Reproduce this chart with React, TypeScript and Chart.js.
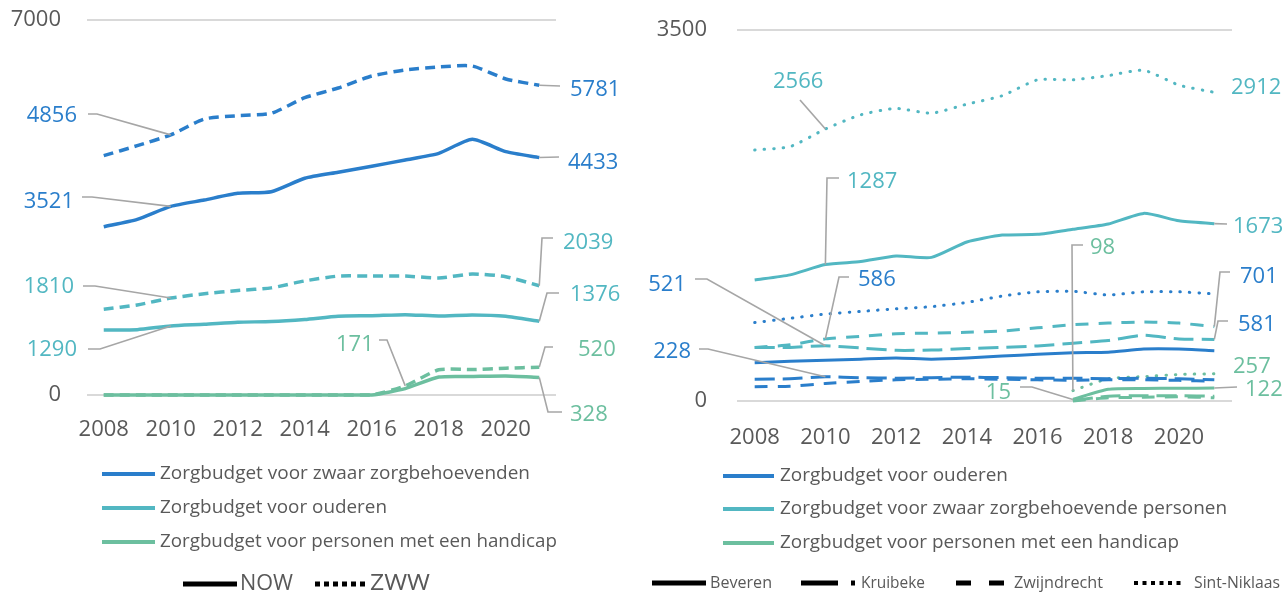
import React, { useEffect, useRef } from "react";
import { Chart, registerables } from "chart.js";

Chart.register(...registerables);

// ---------------- DATA ----------------
const years = ["2008", "2009", "2010", "2011", "2012", "2013", "2014", "2015", "2016", "2017", "2018", "2019", "2020", "2021"];

// Left panel: NOW / ZWW
const leftCategories = [
  "Zorgbudget voor zwaar zorgbehoevenden",
  "Zorgbudget voor ouderen",
  "Zorgbudget voor personen met een handicap",
];
const schemes = ["NOW", "ZWW"];
const nowZwaar = [3141, 3279, 3521, 3640, 3764, 3795, 4045, 4158, 4270, 4387, 4511, 4773, 4542, 4433];
const zwwZwaar = [4467, 4654, 4856, 5152, 5214, 5258, 5550, 5731, 5955, 6067, 6123, 6141, 5899, 5781];
const nowOuderen = [1215, 1220, 1290, 1320, 1360, 1370, 1410, 1470, 1480, 1500, 1475, 1495, 1470, 1376];
const zwwOuderen = [1600, 1680, 1810, 1890, 1950, 2000, 2130, 2220, 2221, 2221, 2184, 2259, 2209, 2039];
const nowHandicap = [0, 0, 0, 0, 0, 0, 0, 0, 0, 120, 335, 345, 355, 328];
const zwwHandicap = [0, 0, 0, 0, 0, 0, 0, 0, 0, 171, 470, 475, 500, 520];
const leftMax = 7000;

// Right panel: municipalities
const rightCategories = [
  "Zorgbudget voor ouderen",
  "Zorgbudget voor zwaar zorgbehoevende personen",
  "Zorgbudget voor personen met een handicap",
];
const municipalities = ["Beveren", "Kruibeke", "Zwijndrecht", "Sint-Niklaas"];
const beverenOuderen = [360, 375, 385, 395, 405, 395, 405, 425, 440, 455, 460, 490, 490, 475];
const beverenZwaar = [1142, 1190, 1287, 1315, 1368, 1355, 1500, 1565, 1572, 1620, 1670, 1770, 1700, 1673];
const beverenHandicap = [null, null, null, null, null, null, null, null, null, 15, 110, 118, 120, 122];
const kruibekeOuderen = [205, 210, 228, 220, 215, 220, 225, 220, 215, 215, 210, 215, 210, 200];
const kruibekeZwaar = [505, 505, 521, 500, 478, 480, 495, 505, 520, 545, 570, 620, 585, 581];
const kruibekeHandicap = [null, null, null, null, null, null, null, null, null, 5, 45, 50, 50, 45];
const zwijndrechtOuderen = [135, 140, 165, 185, 200, 205, 210, 205, 200, 195, 200, 200, 195, 185];
const zwijndrechtZwaar = [505, 530, 586, 610, 635, 640, 648, 660, 690, 720, 735, 745, 735, 701];
const zwijndrechtHandicap = [null, null, null, null, null, null, null, null, null, 0, 30, 35, 40, 30];
const sintNiklaasOuderen = [740, 780, 820, 845, 870, 890, 930, 990, 1030, 1035, 1000, 1030, 1030, 1010];
const sintNiklaasZwaar = [2368, 2400, 2566, 2700, 2760, 2715, 2800, 2880, 3030, 3030, 3070, 3120, 2980, 2912];
const sintNiklaasHandicap = [null, null, null, null, null, null, null, null, null, 98, 210, 230, 250, 257];
const rightMax = 3500;

// ---------------- STYLE ----------------
const BLUE = "#2a7ecb";
const TEAL = "#52b7c2";
const GREEN = "#6cbf9f";
const LEADER = "#a6a6a6";
const GRID = "#d9d9d9";
const TEXT = "#595959";
const FONT = '"Open Sans", "Noto Sans", sans-serif';

const DASH_ZWW = [10, 6];
const DASH_LONG = [20, 8];
const DASH_MED = [13, 10];
const DASH_DOT = [0.5, 9];

type Callout = { ds: number; i: number; color: string; tx: number; ty: number; align?: "left" | "right"; path?: number[][] };
type Seg = { x1: number; x2: number; y: number; color: string; w: number; dash: number[] };
type Txt = { x: number; y: number; text: string; size: number; w?: number; color?: string };

function makeAnnot(offsetX: number, xLabelY: number, callouts: Callout[], segs: Seg[], texts: Txt[]) {
  return {
    id: "annot",
    afterDraw(chart: any) {
      const ctx: CanvasRenderingContext2D = chart.ctx;
      ctx.save();
      // x-axis labels (every other year), positioned through the category scale
      const xs = chart.scales.x;
      ctx.fillStyle = TEXT;
      ctx.font = `22px ${FONT}`;
      ctx.textAlign = "center";
      ctx.textBaseline = "middle";
      years.forEach((label, i) => {
        if (i % 2 === 0) ctx.fillText(label, xs.getPixelForValue(i), xLabelY);
      });
      // value callouts with leader lines
      for (const c of callouts) {
        const el = chart.getDatasetMeta(c.ds).data[c.i];
        const value = chart.data.datasets[c.ds].data[c.i];
        if (c.path) {
          ctx.beginPath();
          ctx.strokeStyle = LEADER;
          ctx.lineWidth = 1.6;
          ctx.setLineDash([]);
          c.path.forEach((p, k) => (k === 0 ? ctx.moveTo(p[0] - offsetX, p[1]) : ctx.lineTo(p[0] - offsetX, p[1])));
          ctx.lineTo(el.x, el.y);
          ctx.stroke();
        }
        ctx.fillStyle = c.color;
        ctx.font = `22px ${FONT}`;
        ctx.textAlign = c.align || "left";
        ctx.textBaseline = "middle";
        ctx.fillText(String(value), c.tx - offsetX, c.ty);
      }
      // legend samples
      for (const s of segs) {
        ctx.beginPath();
        ctx.strokeStyle = s.color;
        ctx.lineWidth = s.w;
        ctx.lineCap = "butt";
        ctx.setLineDash(s.dash);
        ctx.moveTo(s.x1 - offsetX, s.y);
        ctx.lineTo(s.x2 - offsetX, s.y);
        ctx.stroke();
      }
      ctx.setLineDash([]);
      for (const t of texts) {
        ctx.save();
        ctx.fillStyle = t.color || TEXT;
        ctx.font = `${t.size}px ${FONT}`;
        ctx.textAlign = "left";
        ctx.textBaseline = "middle";
        ctx.translate(t.x - offsetX, t.y);
        if (t.w) {
          const m = ctx.measureText(t.text).width;
          ctx.scale(t.w / m, 1);
        }
        ctx.fillText(t.text, 0, 0);
        ctx.restore();
      }
      ctx.restore();
    },
  };
}

function line(label: string, data: (number | null)[], color: string, dash: number[], width: number, cap: CanvasLineCap = "butt") {
  return {
    label,
    data,
    borderColor: color,
    backgroundColor: color,
    borderWidth: width,
    borderDash: dash,
    borderCapStyle: cap,
    borderJoinStyle: "round" as const,
    pointRadius: 0,
    tension: 0.2,
    fill: false,
    clip: 12,
  };
}

function axes(max: number, yWidth: number, yPad: number, xHeight: number) {
  return {
    x: {
      type: "category" as const,
      offset: true,
      grid: { display: false, drawTicks: false },
      border: { display: false },
      ticks: { display: false, autoSkip: false },
      afterFit: (s: any) => {
        s.height = xHeight;
        s.paddingLeft = 0;
        s.paddingRight = 0;
      },
    },
    y: {
      min: 0,
      max,
      grid: { color: GRID, lineWidth: 2, drawTicks: false },
      border: { display: false },
      ticks: {
        stepSize: max,
        padding: yPad,
        color: TEXT,
        font: { family: FONT, size: 22 },
        callback: (v: any) => String(v),
      },
      afterFit: (s: any) => {
        s.width = yWidth;
        s.paddingTop = 0;
        s.paddingBottom = 0;
      },
    },
  };
}

function LeftChart() {
  const ref = useRef<HTMLCanvasElement>(null);
  useEffect(() => {
    const callouts: Callout[] = [
      { ds: 1, i: 2, color: BLUE, tx: 77, ty: 116, align: "right", path: [[88, 114], [97, 114]] },
      { ds: 0, i: 2, color: BLUE, tx: 74, ty: 202, align: "right", path: [[82, 197], [92, 197]] },
      { ds: 3, i: 2, color: TEAL, tx: 74, ty: 287, align: "right", path: [[83, 286], [95, 286]] },
      { ds: 2, i: 2, color: TEAL, tx: 77, ty: 350, align: "right", path: [[88, 349], [100, 349]] },
      { ds: 5, i: 9, color: GREEN, tx: 336, ty: 345, path: [[379, 340], [387, 340]] },
      { ds: 1, i: 13, color: BLUE, tx: 570, ty: 90, path: [[560, 86]] },
      { ds: 0, i: 13, color: BLUE, tx: 568, ty: 163, path: [[559, 157]] },
      { ds: 3, i: 13, color: TEAL, tx: 563, ty: 243, path: [[553, 238], [542, 238]] },
      { ds: 2, i: 13, color: TEAL, tx: 570, ty: 295, path: [[559, 293], [547, 293]] },
      { ds: 5, i: 13, color: GREEN, tx: 578, ty: 350, path: [[553, 347], [545, 347]] },
      { ds: 4, i: 13, color: GREEN, tx: 570, ty: 415, path: [[562, 412], [548, 412]] },
    ];
    const segs: Seg[] = [
      { x1: 102, x2: 155, y: 474, color: BLUE, w: 4, dash: [] },
      { x1: 102, x2: 155, y: 508, color: TEAL, w: 4, dash: [] },
      { x1: 102, x2: 155, y: 542, color: GREEN, w: 4, dash: [] },
      { x1: 183, x2: 237, y: 584, color: "#000", w: 5, dash: [] },
      { x1: 315, x2: 368, y: 584, color: "#000", w: 5, dash: [5, 4] },
    ];
    const texts: Txt[] = [
      { x: 160, y: 474, text: leftCategories[0], size: 19, w: 370 },
      { x: 160, y: 508, text: leftCategories[1], size: 19, w: 227 },
      { x: 160, y: 542, text: leftCategories[2], size: 19, w: 397 },
      { x: 240, y: 584, text: schemes[0], size: 21, w: 53 },
      { x: 370, y: 584, text: schemes[1], size: 21, w: 60 },
    ];
    const chart = new Chart(ref.current!, {
      type: "line",
      data: {
        labels: years,
        datasets: [
          line(`${schemes[0]} ${leftCategories[0]}`, nowZwaar, BLUE, [], 3.5),
          line(`${schemes[1]} ${leftCategories[0]}`, zwwZwaar, BLUE, DASH_ZWW, 3.5),
          line(`${schemes[0]} ${leftCategories[1]}`, nowOuderen, TEAL, [], 3.5),
          line(`${schemes[1]} ${leftCategories[1]}`, zwwOuderen, TEAL, DASH_ZWW, 3.5),
          line(`${schemes[0]} ${leftCategories[2]}`, nowHandicap, GREEN, [], 3.5),
          line(`${schemes[1]} ${leftCategories[2]}`, zwwHandicap, GREEN, DASH_ZWW, 3.5),
        ],
      },
      options: {
        responsive: false,
        animation: false,
        devicePixelRatio: 1,
        layout: { padding: { left: 0, right: 84, top: 20, bottom: 0 } },
        plugins: { legend: { display: false }, tooltip: { enabled: false } },
        scales: axes(leftMax, 87, 26, 197) as any,
      },
      plugins: [makeAnnot(0, 430, callouts, segs, texts)],
    });
    return () => chart.destroy();
  }, []);
  return <canvas ref={ref} width={640} height={592} style={{ position: "absolute", left: 0, top: 0 }} />;
}

function RightChart() {
  const ref = useRef<HTMLCanvasElement>(null);
  useEffect(() => {
    const OX = 640;
    const callouts: Callout[] = [
      { ds: 10, i: 2, color: TEAL, tx: 773, ty: 82, path: [[800, 100]] },
      { ds: 1, i: 2, color: TEAL, tx: 847, ty: 182, path: [[839, 178], [827, 178]] },
      { ds: 4, i: 2, color: BLUE, tx: 686, ty: 285, align: "right", path: [[695, 279], [707, 279]] },
      { ds: 7, i: 2, color: BLUE, tx: 858, ty: 280, path: [[849, 277], [839, 277]] },
      { ds: 3, i: 2, color: BLUE, tx: 691, ty: 352, align: "right", path: [[699, 349], [708, 349]] },
      { ds: 10, i: 13, color: TEAL, tx: 1231, ty: 88 },
      { ds: 1, i: 13, color: TEAL, tx: 1233, ty: 227, path: [[1227, 224]] },
      { ds: 11, i: 9, color: GREEN, tx: 1090, ty: 248, path: [[1083, 245], [1072, 245]] },
      { ds: 7, i: 13, color: BLUE, tx: 1240, ty: 277, path: [[1230, 272], [1220, 272]] },
      { ds: 4, i: 13, color: BLUE, tx: 1238, ty: 325, path: [[1228, 321], [1218, 321]] },
      { ds: 11, i: 13, color: GREEN, tx: 1233, ty: 367 },
      { ds: 2, i: 13, color: GREEN, tx: 1245, ty: 390, path: [[1237, 387]] },
      { ds: 2, i: 9, color: GREEN, tx: 1011, ty: 393, align: "right", path: [[1020, 387], [1032, 387]] },
    ];
    const segs: Seg[] = [
      { x1: 723, x2: 774, y: 476, color: BLUE, w: 4, dash: [] },
      { x1: 723, x2: 774, y: 509, color: TEAL, w: 4, dash: [] },
      { x1: 723, x2: 774, y: 543, color: GREEN, w: 4, dash: [] },
      { x1: 652, x2: 706, y: 583, color: "#000", w: 5, dash: [] },
      { x1: 801, x2: 856, y: 583, color: "#000", w: 5, dash: [37, 13, 4, 50] },
      { x1: 956, x2: 1005, y: 583, color: "#000", w: 5, dash: [15, 18] },
      { x1: 1134, x2: 1182, y: 583, color: "#000", w: 4, dash: [4, 4.5] },
    ];
    const texts: Txt[] = [
      { x: 780, y: 476, text: rightCategories[0], size: 19, w: 228 },
      { x: 780, y: 509, text: rightCategories[1], size: 19, w: 447 },
      { x: 780, y: 543, text: rightCategories[2], size: 19, w: 399 },
      { x: 710, y: 583, text: municipalities[0], size: 17, w: 62 },
      { x: 861, y: 583, text: municipalities[1], size: 17, w: 64 },
      { x: 1014, y: 583, text: municipalities[2], size: 17, w: 89 },
      { x: 1194, y: 583, text: municipalities[3], size: 17, w: 86 },
    ];
    const w = 3;
    const chart = new Chart(ref.current!, {
      type: "line",
      data: {
        labels: years,
        datasets: [
          line(`${municipalities[0]} ${rightCategories[0]}`, beverenOuderen, BLUE, [], w),
          line(`${municipalities[0]} ${rightCategories[1]}`, beverenZwaar, TEAL, [], w),
          line(`${municipalities[0]} ${rightCategories[2]}`, beverenHandicap, GREEN, [], w),
          line(`${municipalities[1]} ${rightCategories[0]}`, kruibekeOuderen, BLUE, DASH_LONG, w),
          line(`${municipalities[1]} ${rightCategories[1]}`, kruibekeZwaar, TEAL, DASH_LONG, w),
          line(`${municipalities[1]} ${rightCategories[2]}`, kruibekeHandicap, GREEN, DASH_LONG, w),
          line(`${municipalities[2]} ${rightCategories[0]}`, zwijndrechtOuderen, BLUE, DASH_MED, w),
          line(`${municipalities[2]} ${rightCategories[1]}`, zwijndrechtZwaar, TEAL, DASH_MED, w),
          line(`${municipalities[2]} ${rightCategories[2]}`, zwijndrechtHandicap, GREEN, DASH_MED, w),
          line(`${municipalities[3]} ${rightCategories[0]}`, sintNiklaasOuderen, BLUE, DASH_DOT, w, "round"),
          line(`${municipalities[3]} ${rightCategories[1]}`, sintNiklaasZwaar, TEAL, DASH_DOT, w, "round"),
          line(`${municipalities[3]} ${rightCategories[2]}`, sintNiklaasHandicap, GREEN, DASH_DOT, w, "round"),
        ],
      },
      options: {
        responsive: false,
        animation: false,
        devicePixelRatio: 1,
        layout: { padding: { left: 0, right: 53, top: 30, bottom: 0 } },
        plugins: { legend: { display: false }, tooltip: { enabled: false } },
        scales: axes(rightMax, 97, 30, 191) as any,
      },
      plugins: [makeAnnot(OX, 438, callouts, segs, texts)],
    });
    return () => chart.destroy();
  }, []);
  return <canvas ref={ref} width={645} height={592} style={{ position: "absolute", left: 640, top: 0 }} />;
}

export default function App() {
  return (
    <div style={{ position: "absolute", left: 0, top: 0, width: 1285, height: 592, background: "#fff", overflow: "hidden" }}>
      <LeftChart />
      <RightChart />
    </div>
  );
}
